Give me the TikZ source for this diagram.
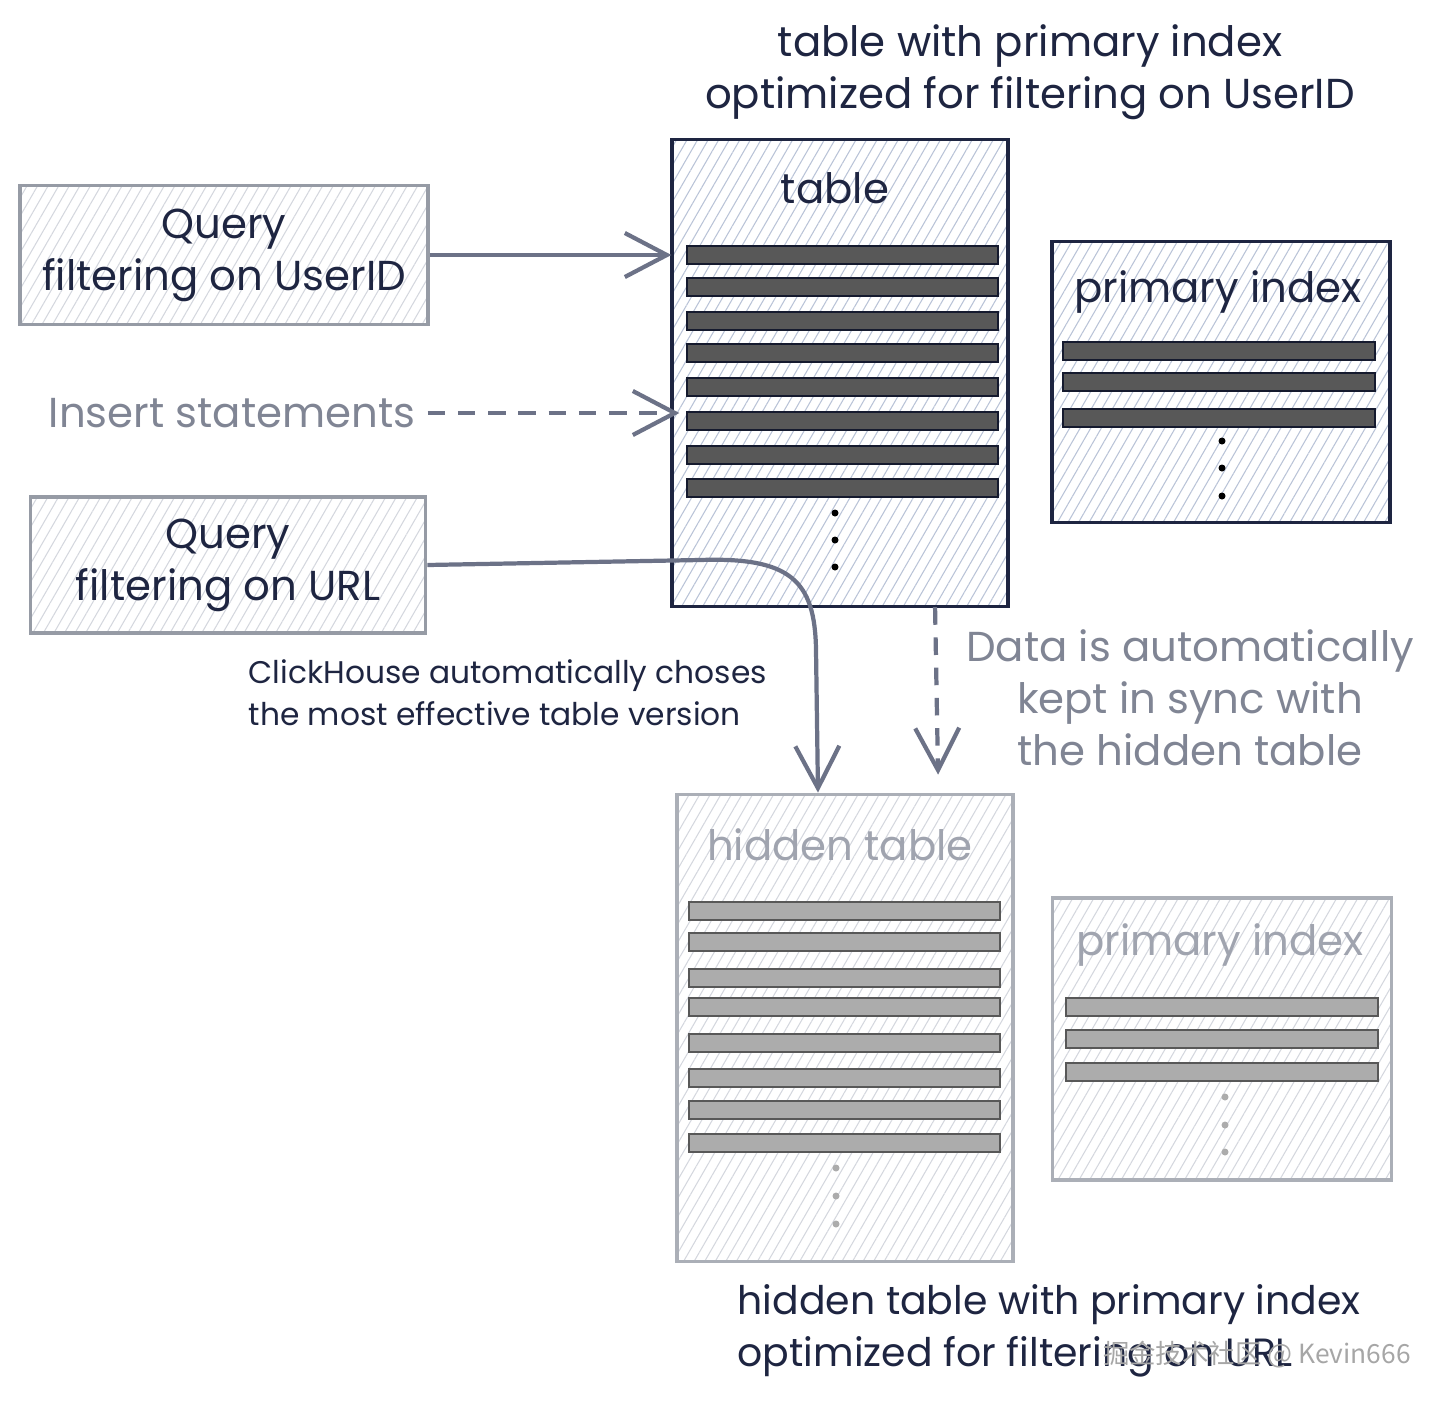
\documentclass[tikz,border=0pt]{standalone}
\usepackage{fontspec}
\setmainfont{Poppins}
\newfontfamily\cjkfont{Noto Sans CJK SC}
\usetikzlibrary{arrows.meta, patterns.meta, positioning}
\definecolor{inkblue}{RGB}{30, 37, 65}
\definecolor{arrowgray}{RGB}{108, 114, 135}
\definecolor{fadetext}{RGB}{128, 133, 148}
\definecolor{paletext}{RGB}{160, 164, 175}
\definecolor{boxgray}{RGB}{150, 155, 165}
\definecolor{hatchblue}{RGB}{185, 195, 215}
\definecolor{hatchgray}{RGB}{212, 215, 222}
\definecolor{rowdark}{RGB}{88, 88, 88}
\definecolor{rowpale}{RGB}{172, 172, 172}

\tikzset{
  hatched/.style={pattern={Lines[angle=60, distance=2.6pt, line width=0.3pt]}},
  mainbox/.style={draw=inkblue, line width=1pt, hatched, pattern color=hatchblue, inner sep=0pt},
  palebox/.style={draw=boxgray!80, line width=1pt, hatched, pattern color=hatchgray, inner sep=0pt},
  querybox/.style={draw=boxgray, line width=1pt, hatched, pattern color=hatchgray, align=center, text=inkblue},
  bigtext/.style={font=\fontsize{11.9}{14.8}\selectfont},
  smalltext/.style={font=\fontsize{8.9}{11.9}\selectfont},
  darkrow/.style={draw=inkblue!70!black, line width=0.8pt, fill=rowdark},
  palerow/.style={draw=rowdark, line width=0.8pt, fill=rowpale},
  flow/.style={arrowgray, line width=1.2pt, -{Straight Barb[length=0.42cm, width=0.44cm, line width=1.2pt]}},
  syncflow/.style={flow, dash pattern=on 5pt off 3.6pt}
}

\begin{document}
\begin{tikzpicture}[x=0.01cm, y=-0.01cm]
\useasboundingbox (0,0) rectangle (1440,1403);

% main table and its index
\node[mainbox, minimum width=3.36cm, minimum height=4.67cm] (table) at (840,373) {};
\node[mainbox, minimum width=3.38cm, minimum height=2.81cm] (pindex) at (1221,382) {};
\node[bigtext, text=inkblue] (tablelbl) at (835,188) {table};
\node[bigtext, text=inkblue] (pindexlbl) at (1218,292) {primary index};
\foreach \y in {255,287,321,353,387,421,455,488}
  \draw[darkrow] (687,{\y-9}) rectangle (998,{\y+9});
\foreach \y in {351,382,418}
  \draw[darkrow] (1063,{\y-9}) rectangle (1375,{\y+9});
\foreach \y in {513,540,567}
  \fill[black] (835,\y) circle (0.035cm);
\foreach \y in {441,468,496}
  \fill[black] (1222,\y) circle (0.035cm);

% hidden table and its index
\node[palebox, minimum width=3.36cm, minimum height=4.67cm] (hidden) at (845,1028) {};
\node[palebox, minimum width=3.39cm, minimum height=2.82cm] (hindex) at (1222,1039) {};
\node[bigtext, text=paletext] (hiddenlbl) at (840,845) {hidden table};
\node[bigtext, text=paletext] (hindexlbl) at (1220,945) {primary index};
\foreach \y in {911,942,978,1007,1043,1078,1110,1143}
  \draw[palerow] (689,{\y-9}) rectangle (1000,{\y+9});
\foreach \y in {1007,1039,1072}
  \draw[palerow] (1066,{\y-9}) rectangle (1378,{\y+9});
\foreach \y in {1168,1196,1224}
  \fill[rowpale] (836,\y) circle (0.035cm);
\foreach \y in {1097,1125,1152}
  \fill[rowpale] (1225,\y) circle (0.035cm);

% queries and inserts
\node[querybox, bigtext, minimum width=4.08cm, minimum height=1.39cm] (q1) at (224,255) {Query\\filtering on UserID};
\node[querybox, bigtext, minimum width=3.95cm, minimum height=1.36cm] (q2) at (228,565) {Query\\filtering on URL};
\node[bigtext, text=fadetext] (ins) at (232,413) {Insert statements};

% connectors
\draw[flow] (q1.east) -- (q1.east -| table.west);
\draw[flow, dash pattern=on 5pt off 3.6pt] (ins.east) -- ([xshift=0.08cm]ins.east -| table.west);
\draw[flow] (q2.east) -- (700,560) .. controls (790,557) and (815,580) .. (816,650) -- ([xshift=-0.27cm]hidden.north);
\draw[syncflow] ([xshift=0.95cm]table.south) -- ([xshift=0.93cm, yshift=0.18cm]hidden.north);

% captions
\node[bigtext, text=inkblue, align=center] (toptitle) at (1030,72) {table with primary index\\optimized for filtering on UserID};
\node[smalltext, text=inkblue, align=left, anchor=west, inner sep=0pt] (choose) at (248,693) {ClickHouse automatically choses\\the most effective table version};
\node[bigtext, text=fadetext, align=center] (sync) at (1190,698) {Data is automatically\\kept in sync with\\the hidden table};
\node[font=\fontsize{11.2}{14.8}\selectfont, text=inkblue, align=left, anchor=west, inner sep=0pt] (bottitle) at (737,1331) {hidden table with primary index\\optimized for filtering on URL};
\node[text=gray!70, font=\cjkfont\fontsize{7.5}{9}\selectfont] (mark) at (1257,1355) {掘金技术社区 @ Kevin666};
\end{tikzpicture}
\end{document}
